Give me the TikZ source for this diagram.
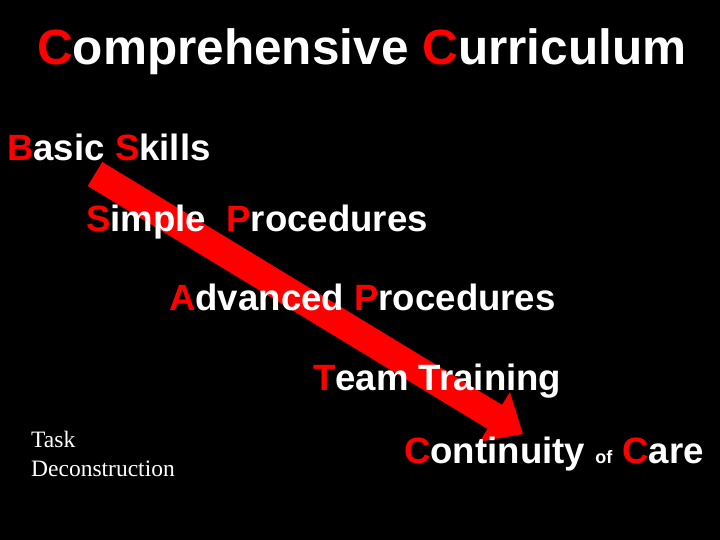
\documentclass[tikz,border=0pt]{standalone}
\usepackage{fontspec}
\setmainfont{Liberation Serif}
\setsansfont{Liberation Sans}
\usetikzlibrary{arrows.meta}
\definecolor{slidered}{RGB}{255,0,0}
\newcommand{\redcap}[1]{\textcolor{slidered}{#1}}

\begin{document}
\begin{tikzpicture}[x=1pt, y=-1pt]
			\tikzstyle{headline}=[
			anchor=base west,
			inner sep=0pt,
			text=white,
			font=\sffamily\bfseries\fontsize{49.5}{58}\selectfont
			]
			\tikzstyle{stage}=[
			anchor=base west,
			inner sep=0pt,
			text=white,
			font=\sffamily\bfseries\fontsize{36.6}{43}\selectfont
			]
			\tikzstyle{note}=[
			anchor=base west,
			inner sep=0pt,
			text=white,
			align=left,
			font=\rmfamily\fontsize{23.5}{29}\selectfont
			]
			\tikzstyle{bigarrow}=[
			draw=slidered,
			line width=28pt,
			-{Triangle[length=33pt, width=56pt]}
			]
			\fill[black] (0,0) rectangle (720,540);
			% the red arrow runs under the stages
			\coordinate (arrowstart) at (95,174);
			\coordinate (arrowtip) at (523,434);
			\draw[bigarrow] (arrowstart) -- (arrowtip);
			\node[headline] (title) at (37,65) {\redcap{C}omprehensive \redcap{C}urriculum};
			\node[stage] (basic) at (7,161) {\redcap{B}asic \redcap{S}kills};
			\node[stage] (simple) at (86,232) {\redcap{S}imple\ \ \redcap{P}rocedures};
			\node[stage] (advanced) at (169,310) {\redcap{A}dvanced \redcap{P}rocedures};
			\node[stage] (team) at (313,390) {\redcap{T}eam Training};
			\node[stage] (continuity) at (404,463) {\redcap{C}ontinuity {\fontsize{18}{20}\selectfont of} \redcap{C}are};
			\node[note] (task) at (31,476) {Task\\Deconstruction};
			%\node[stage] at (0,0) {};
		\end{tikzpicture}
\end{document}
